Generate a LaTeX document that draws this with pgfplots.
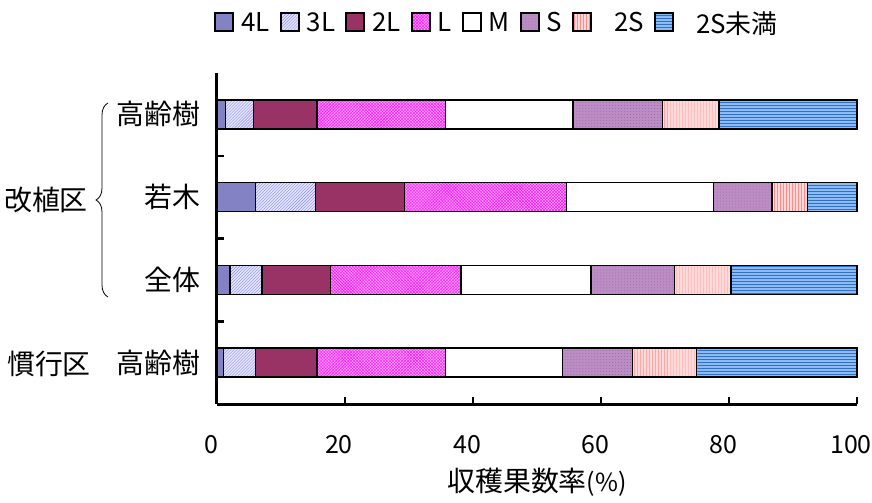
\documentclass[border=0pt]{standalone}
\usepackage{fontspec}
\setmainfont{Noto Sans CJK JP}
\usepackage{pgfplots}
\pgfplotsset{compat=1.18}
\usetikzlibrary{patterns,decorations.pathreplacing}
\definecolor{c4L}{HTML}{8282C4}
\definecolor{c3L}{HTML}{E6E6FF}
\definecolor{p3L}{HTML}{8C8CF0}
\definecolor{c2L}{HTML}{993366}
\definecolor{cL}{HTML}{FF99FF}
\definecolor{pL}{HTML}{F020F0}
\definecolor{cS}{HTML}{BC8CC4}
\definecolor{pS}{HTML}{9A6AA6}
\definecolor{c2S}{HTML}{FFDADA}
\definecolor{p2S}{HTML}{FF8C8C}
\definecolor{c2Su}{HTML}{8CBCF2}
\definecolor{p2Su}{HTML}{2F6FD0}
\pgfplotsset{
  mybar/.style={draw=black, line width=1.5bp,
    legend image code/.code={\draw[##1, line width=2bp] (0bp,-8bp) rectangle (18bp,10bp);}},
}
\begin{document}
\begin{tikzpicture}
\useasboundingbox (-217bp,-99bp) rectangle (655bp,404bp);
\begin{axis}[
  at={(0,0)}, anchor=south west,
  scale only axis, width=640bp, height=331bp,
  xbar stacked, bar width=29bp,
  xmin=0, xmax=100, ymin=-0.5, ymax=3.5,
  axis x line=bottom, axis y line=left,
  axis line style={line width=3bp, -},
  xtick={0,20,40,60,80,100},
  ytick={0.5,1.5,2.5}, yticklabels={},
  extra y ticks={0,1,2,3},
  extra y tick labels={高齢樹,全体,若木,高齢樹},
  extra y tick style={major tick length=0pt, yticklabel style={xshift=-13bp, font=\fontsize{28}{32}\selectfont}},
  tick align=inside, major tick length=7bp,
  tick style={line width=2.5bp, black},
  tick label style={font=\fontsize{25}{30}\selectfont},
  xticklabel style={yshift=-28bp, xshift=-6bp},
  /pgf/number format/assume math mode=true,
  xlabel={収穫果数率{\fontsize{25}{28}\selectfont(\%)}},
  xlabel style={at={(axis description cs:0.5,0)}, anchor=center, yshift=-78bp, font=\fontsize{28}{32}\selectfont},
  legend columns=-1,
  legend style={at={(axis description cs:0.436,1)}, anchor=center, yshift=50bp, draw=none,
    font=\fontsize{26}{30}\selectfont,
    nodes={inner xsep=0pt},
    /tikz/every odd column/.append style={column sep=7bp},
    /tikz/every even column/.append style={column sep=10bp}},
  clip=false,
]
\addplot[mybar, fill=c4L] coordinates {(1.0,0) (2.0,1) (6.0,2) (1.3,3)};
\addplot[mybar, fill=c3L, postaction={pattern=north east lines, pattern color=p3L}] coordinates {(5.0,0) (5.0,1) (9.4,2) (4.4,3)};
\addplot[mybar, fill=c2L] coordinates {(9.6,0) (10.7,1) (13.9,2) (9.9,3)};
\addplot[mybar, fill=cL, postaction={pattern=crosshatch, pattern color=pL}] coordinates {(20.1,0) (20.4,1) (25.3,2) (20.1,3)};
\addplot[mybar, fill=white] coordinates {(18.3,0) (20.3,1) (23.0,2) (19.9,3)};
\addplot[mybar, fill=cS, postaction={pattern=dots, pattern color=pS}] coordinates {(10.9,0) (13.1,1) (9.1,2) (14.0,3)};
\addplot[mybar, fill=c2S, postaction={pattern=vertical lines, pattern color=p2S}] coordinates {(10.0,0) (8.8,1) (5.6,2) (8.8,3)};
\addplot[mybar, fill=c2Su, postaction={pattern=horizontal lines, pattern color=p2Su}] coordinates {(25.1,0) (19.7,1) (7.7,2) (21.6,3)};
\legend{4L,3L,2L,L,M,S,\hspace{15bp}2S,\hspace{15bp}2S未満}
\end{axis}
\draw[decorate, decoration={brace, amplitude=12bp}, line width=0.8bp] (-109bp,107bp) -- (-109bp,301bp);
\node[anchor=center, inner sep=0pt, font=\fontsize{28}{32}\selectfont] at (-171bp,204bp) {改植区};
\node[anchor=center, inner sep=0pt, font=\fontsize{28}{32}\selectfont] at (-168bp,40bp) {慣行区};
\end{tikzpicture}
\end{document}
